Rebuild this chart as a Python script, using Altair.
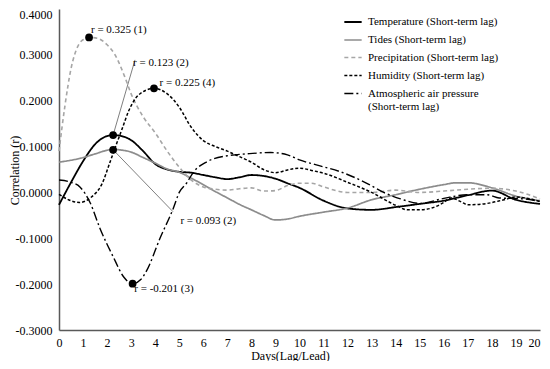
import altair as alt
import pandas as pd

FONT = "Liberation Serif"

series_names = [
    "Temperature (Short-term lag)",
    "Tides (Short-term lag)",
    "Precipitation (Short-term lag)",
    "Humidity (Short-term lag)",
    "Atmospheric air pressure (Short-term lag)",
]

temp_days = [0, 0.5, 1, 1.5, 2, 2.25, 2.5, 3, 3.5, 4, 4.5, 5, 5.5, 6, 6.5, 7, 7.5, 8, 8.5, 9, 9.5, 10,
             11, 12, 13, 14, 15, 16, 17, 18, 19, 20]
temp_r = [-0.027, 0.022, 0.068, 0.105, 0.123, 0.125, 0.124, 0.114, 0.090, 0.062, 0.050, 0.045, 0.043,
          0.038, 0.033, 0.029, 0.033, 0.038, 0.036, 0.030, 0.020, 0.010,
          -0.018, -0.035, -0.038, -0.032, -0.025, -0.018, -0.006, 0.004, -0.016, -0.025]

tides_days = [0, 1, 1.5, 2, 2.25, 2.5, 3, 3.5, 4, 4.5, 5, 5.5, 6, 6.5, 7, 7.5, 8, 8.5, 9, 9.5, 10,
              11, 12, 13, 14, 15, 16, 16.5, 17, 18, 19, 20]
tides_r = [0.066, 0.076, 0.084, 0.092, 0.094, 0.093, 0.088, 0.076, 0.064, 0.051, 0.044, 0.031, 0.017,
           0.002, -0.012, -0.026, -0.038, -0.050, -0.060, -0.058, -0.052,
           -0.043, -0.034, -0.016, -0.005, 0.007, 0.017, 0.021, 0.021, 0.010, -0.008, -0.018]

precip_days = [0, 0.25, 0.5, 0.75, 1, 1.3, 1.6, 2, 2.33, 2.75, 3, 3.5, 4, 4.5, 5, 5.5, 6, 6.5, 7, 7.5,
               8, 8.5, 9, 9.5, 10, 10.5, 11, 12, 13, 14, 15, 16, 17, 18, 19, 20]
precip_r = [0.090, 0.190, 0.270, 0.315, 0.333, 0.338, 0.336, 0.322, 0.300, 0.250, 0.215, 0.165, 0.130,
            0.090, 0.055, 0.027, 0.012, 0.007, 0.005, 0.008, 0.010, 0.003, 0.004, 0.015, 0.020, 0.020,
            0.012, 0.000, 0.000, 0.005, 0.000, 0.003, 0.007, 0.009, 0.003, -0.014]

humid_days = [0, 0.4, 0.85, 1.35, 1.8, 2.1, 2.4, 2.6, 2.9, 3.3, 3.95, 4.5, 5, 5.5, 6, 6.5, 7, 7.5, 8,
              8.5, 9, 9.5, 10, 10.5, 11, 12, 13, 14, 14.5, 15, 15.5, 16, 16.3, 16.7, 17, 17.8, 18.5,
              19, 20]
humid_r = [-0.004, -0.016, -0.022, -0.010, 0.020, 0.063, 0.107, 0.135, 0.178, 0.212, 0.227, 0.215,
           0.186, 0.142, 0.113, 0.100, 0.090, 0.078, 0.066, 0.050, 0.043, 0.049, 0.053, 0.048, 0.042,
           0.022, 0.000, -0.028, -0.038, -0.038, -0.034, -0.022, -0.012, -0.020, -0.027, -0.024,
           -0.016, -0.010, -0.020]

press_days = [0, 0.5, 0.87, 1.3, 1.7, 2.25, 2.7, 3.06, 3.4, 3.65, 4.2, 4.75, 5.0, 5.3, 5.6, 6.15, 7,
              7.8, 8.8, 9.5, 10, 10.7, 11.7, 12.8, 13.5, 14.2, 15, 16, 17, 17.8, 18.3, 19.3, 20]
press_r = [0.027, 0.022, 0.012, -0.023, -0.078, -0.140, -0.185, -0.199, -0.190, -0.170, -0.100,
           -0.035, 0.000, 0.020, 0.045, 0.067, 0.080, 0.084, 0.087, 0.082, 0.071, 0.060, 0.045,
           0.020, 0.000, -0.014, -0.024, -0.013, -0.005, -0.005, -0.012, -0.014, -0.020]

series_days = [temp_days, tides_days, precip_days, humid_days, press_days]
series_values = [temp_r, tides_r, precip_r, humid_r, press_r]

series_colors = ["#000000", "#8c8c8c", "#a6a6a6", "#000000", "#000000"]
series_dash = [[1, 0], [1, 0], [4, 3], [3, 2], [9, 3, 2, 3]]
series_width = [1.8, 1.4, 1.3, 1.8, 1.5]

# Annotations
dot_days = [1.25, 2.25, 2.25, 3.95, 3.06]
dot_r = [0.338, 0.125, 0.093, 0.227, -0.199]

label_text = ["r = 0.325 (1)", "r = 0.123 (2)", "r = 0.093 (2)", "r = 0.225 (4)", "r = -0.201 (3)"]
label_days = [1.33, 3.08, 5.05, 4.18, 3.13]
label_r = [0.355, 0.283, -0.063, 0.239, -0.210]

leader_x1 = [2.25, 2.25]
leader_y1 = [0.125, 0.093]
leader_x2 = [3.16, 4.74]
leader_y2 = [0.289, -0.042]

x_ticks = list(range(0, 21))
y_ticks = [-0.3, -0.2, -0.1, 0.0, 0.1, 0.2, 0.3, 0.4]

rows = []
for name, ds, vs in zip(series_names, series_days, series_values):
    for d, v in zip(ds, vs):
        rows.append({"series": name, "day": d, "r": v})
df = pd.DataFrame(rows)

dots = pd.DataFrame({"day": dot_days, "r": dot_r})
labels = pd.DataFrame({"day": label_days, "r": label_r, "text": label_text})
leaders = pd.DataFrame({"x1": leader_x1, "y1": leader_y1, "x2": leader_x2, "y2": leader_y2})

xscale = alt.Scale(domain=[0, 20], nice=False, zero=False)
yscale = alt.Scale(domain=[-0.3, 0.4], nice=False, zero=False)

minus_fix = "replace(format(datum.value, '.4f'), '\u2212', '-')"

x_axis = alt.Axis(values=x_ticks, title="Days(Lag/Lead)", grid=False, ticks=False,
                  labelPadding=7, labelFontSize=12, labelFont=FONT, labelColor="#000000",
                  labelOverlap=False, labelFlush=False, labelBound=False,
                  labelAlign=alt.condition("datum.value >= 20", alt.value("right"), alt.value("center")),
                  titleFont=FONT, titleFontSize=12, titleFontWeight="normal",
                  titleColor="#000000", titleX=231, titleY=25, titleBaseline="middle",
                  domainColor="#595959", domainWidth=1.5)
y_axis = alt.Axis(values=y_ticks, title="Correlation (r)", grid=False, ticks=False,
                  labelPadding=7, labelFontSize=12, labelFont=FONT, labelColor="#000000",
                  labelExpr=minus_fix, labelOverlap=False, labelFlush=False,
                  labelBaseline=alt.condition("datum.value > 0.39", alt.value("top"), alt.value("middle")),
                  titleFont=FONT, titleFontSize=12, titleFontWeight="normal",
                  titleColor="#000000", titleX=-45, titleY=161, titleAngle=-90,
                  titleBaseline="middle", titleAlign="center",
                  domainColor="#595959", domainWidth=1.5)

lines = alt.Chart(df).mark_line(interpolate="monotone").encode(
    x=alt.X("day:Q", scale=xscale, axis=x_axis),
    y=alt.Y("r:Q", scale=yscale, axis=y_axis),
    color=alt.Color("series:N", scale=alt.Scale(domain=series_names, range=series_colors),
                    legend=alt.Legend(
                        title=None, orient="none", legendX=284, legendY=3,
                        symbolType="stroke", symbolSize=300, symbolStrokeWidth=1.8,
                        labelFont=FONT, labelFontSize=11, labelColor="#000000",
                        labelOffset=5, rowPadding=3, labelLimit=300,
                        labelExpr="datum.label == 'Atmospheric air pressure (Short-term lag)' ? ['Atmospheric air pressure', '(Short-term lag)'] : datum.label")),
    strokeDash=alt.StrokeDash("series:N", scale=alt.Scale(domain=series_names, range=series_dash),
                              legend=None),
    strokeWidth=alt.StrokeWidth("series:N", scale=alt.Scale(domain=series_names, range=series_width),
                                legend=None),
)

leader_rules = alt.Chart(leaders).mark_rule(color="#7f7f7f", strokeWidth=1).encode(
    x=alt.X("x1:Q", scale=xscale, axis=x_axis), y=alt.Y("y1:Q", scale=yscale, axis=y_axis),
    x2="x2:Q", y2="y2:Q",
)

dot_marks = alt.Chart(dots).mark_circle(color="#000000", opacity=1, size=60).encode(
    x=alt.X("day:Q", scale=xscale, axis=x_axis), y=alt.Y("r:Q", scale=yscale, axis=y_axis),
)

text_marks = alt.Chart(labels).mark_text(align="left", baseline="middle", font=FONT,
                                         fontSize=11, color="#000000").encode(
    x=alt.X("day:Q", scale=xscale, axis=x_axis), y=alt.Y("r:Q", scale=yscale, axis=y_axis),
    text="text:N",
)

chart = alt.layer(lines, leader_rules, dot_marks, text_marks).properties(
    width=481, height=321,
    autosize=alt.AutoSizeParams(type="none"),
    padding={"left": 51, "top": 1, "right": 2, "bottom": 31},
).configure(background="#ffffff").configure_view(stroke=None).configure_axis(labelOverlap=False)

chart.save("out.html", embed_options={"renderer": "svg", "actions": False})
